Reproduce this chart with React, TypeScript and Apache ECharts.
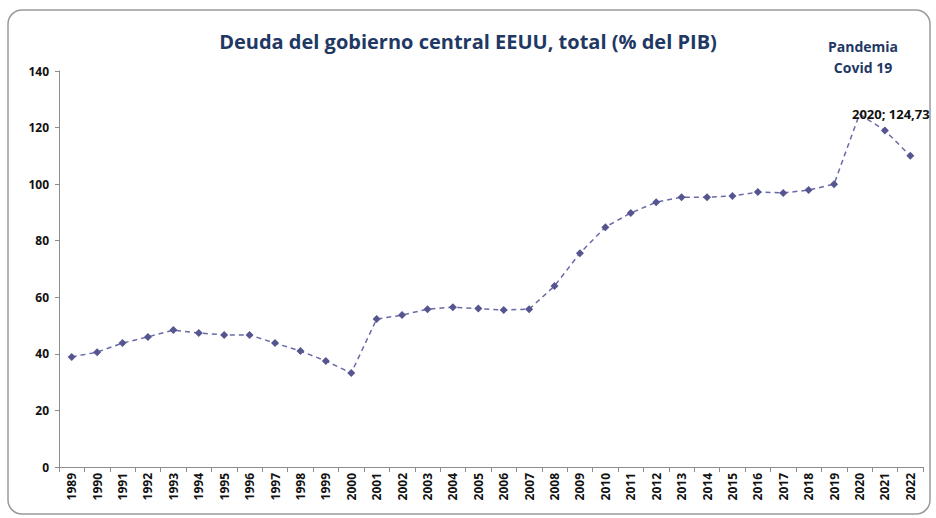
import React, { useEffect, useRef } from "react";
import * as echarts from "echarts";

const years: string[] = [
  "1989","1990","1991","1992","1993","1994","1995","1996","1997","1998","1999","2000",
  "2001","2002","2003","2004","2005","2006","2007","2008","2009","2010","2011","2012",
  "2013","2014","2015","2016","2017","2018","2019","2020","2021","2022",
];
const debt: number[] = [
  38.9, 40.6, 43.8, 46.0, 48.4, 47.4, 46.7, 46.7, 43.8, 41.0, 37.5, 33.2,
  52.3, 53.7, 55.8, 56.5, 56.0, 55.5, 55.8, 64.0, 75.6, 84.8, 89.8, 93.6,
  95.4, 95.4, 95.8, 97.2, 96.9, 97.9, 100.0, 124.73, 119.0, 110.0,
];
const highlightYear = "2020";
const highlightLabel = "2020; 124,73";
const titleText = "Deuda del gobierno central EEUU, total (% del PIB)";
const noteLines = ["Pandemia", "Covid 19"];

const FONT = "'Open Sans', 'DejaVu Sans', sans-serif";

export default function App() {
  const ref = useRef<HTMLDivElement>(null);
  useEffect(() => {
    document.body.style.margin = "0";
    const chart = echarts.init(ref.current!, null, { renderer: "svg" });
    const data = debt.map((v, i) =>
      years[i] === highlightYear
        ? {
            value: v,
            symbolSize: 1,
            label: {
              show: true,
              position: "right",
              distance: -8,
              formatter: highlightLabel,
              color: "#111",
              fontWeight: "bold",
              fontSize: 13,
              fontFamily: FONT,
            },
          }
        : v
    );
    chart.setOption({
      animation: false,
      backgroundColor: "#ffffff",
      title: {
        text: titleText,
        left: "center",
        top: 26,
        textStyle: { color: "#1f3864", fontSize: 20, fontWeight: "bold", fontFamily: FONT },
      },
      graphic: [
        {
          type: "rect",
          shape: { x: 8, y: 10, width: 922, height: 504, r: 14 },
          style: { fill: "none", stroke: "#9a9a9a", lineWidth: 1.5 },
          silent: true,
        },
        {
          type: "text",
          x: 863,
          y: 57,
          style: {
            text: noteLines.join("\n"),
            align: "center",
            verticalAlign: "middle",
            fill: "#1f3864",
            font: `bold 14px ${FONT}`,
            lineHeight: 21,
          },
        },
      ],
      grid: { left: 59, right: 13, top: 71, bottom: 51, containLabel: false },
      xAxis: {
        type: "category",
        data: years,
        boundaryGap: true,
        axisLine: { show: true, lineStyle: { color: "#8c8c8c" } },
        axisTick: { show: true, alignWithLabel: false, length: 5, lineStyle: { color: "#8c8c8c" } },
        axisLabel: {
          rotate: 90,
          interval: 0,
          color: "#111",
          fontWeight: "bold",
          fontSize: 12,
          fontFamily: FONT,
          margin: 6,
        },
        splitLine: { show: false },
      },
      yAxis: {
        type: "value",
        min: 0,
        max: 140,
        interval: 20,
        axisLine: { show: true, lineStyle: { color: "#8c8c8c" } },
        axisTick: { show: true, length: 4, lineStyle: { color: "#8c8c8c" } },
        axisLabel: { color: "#111", fontWeight: "bold", fontSize: 12, fontFamily: FONT, margin: 10 },
        splitLine: { show: false },
      },
      series: [
        {
          type: "line",
          data,
          symbol: "diamond",
          symbolSize: 8,
          itemStyle: { color: "#55558f" },
          lineStyle: { color: "#6a6aa8", width: 1.5, type: [5, 4] },
        },
      ],
    });
    return () => chart.dispose();
  }, []);
  return <div ref={ref} style={{ width: 936, height: 518 }} />;
}
